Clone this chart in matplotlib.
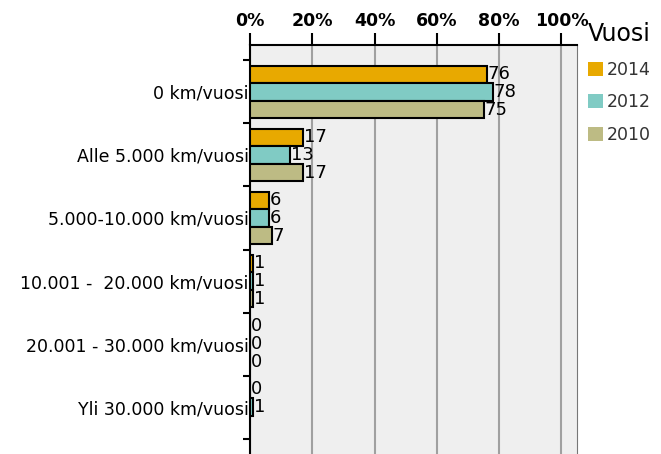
import numpy as np
import matplotlib
matplotlib.use('Agg')
from matplotlib import pyplot as plt
from matplotlib.patches import Patch

categories = ['0 km/vuosi', 'Alle 5.000 km/vuosi', '5.000-10.000 km/vuosi',
              '10.001 -  20.000 km/vuosi', '20.001 - 30.000 km/vuosi',
              'Yli 30.000 km/vuosi']
years = ['2014', '2012', '2010']
v2014 = [76, 17, 6, 1, 0, 0]
v2012 = [78, 13, 6, 1, 0, 1]
v2010 = [75, 17, 7, 1, 0, np.nan]
colors = ['#E8A900', '#80CBC4', '#BDBB84']

plt.rcParams['font.family'] = 'DejaVu Sans'

fig = plt.figure(figsize=(6.61, 4.54), dpi=100)
ax = fig.add_axes([250 / 661, 0, 327 / 661, 409 / 454])
ax.set_facecolor('#EFEFEF')

y = np.arange(len(categories))
h = 0.27
offsets = [-0.278, 0, 0.278]
for vals, off, c in zip([v2014, v2012, v2010], offsets, colors):
    vals = np.array(vals, dtype=float)
    ok = ~np.isnan(vals)
    ax.barh(y[ok] + off, vals[ok], height=h, color=c, edgecolor='black',
            linewidth=1.5, zorder=3)
    for yy, v in zip(y[ok] + off, vals[ok]):
        ax.text(v + 0.3, yy, '%d' % v, va='center', ha='left', fontsize=13,
                zorder=4)

ax.set_xlim(0, 105)
ax.set_ylim(5.746, -0.746)
ax.xaxis.tick_top()
ax.set_xticks([0, 20, 40, 60, 80, 100])
ax.set_xticklabels(['0%', '20%', '40%', '60%', '80%', '100%'],
                   fontsize=12.5, fontweight='bold')
ax.tick_params(axis='x', length=9, width=1.5, pad=2)
ax.grid(axis='x', color='#A0A0A0', linewidth=1.5, zorder=0)

ax.set_yticks(y)
ax.set_yticklabels(categories, fontsize=12.5)
ax.set_yticks(np.arange(-0.5, len(categories)), minor=True)
ax.tick_params(axis='y', which='major', length=0, pad=1)
ax.tick_params(axis='y', which='minor', length=5, width=1.5)

ax.spines['bottom'].set_visible(False)
ax.spines['left'].set_linewidth(1.5)
ax.spines['top'].set_linewidth(1.5)
ax.spines['right'].set_color('#777777')

handles = [Patch(facecolor=c, edgecolor='none') for c in colors]
leg = fig.legend(handles, years, loc='upper left', bbox_to_anchor=(574 / 661, 1 - 8 / 454),
                 title='Vuosi', frameon=False, fontsize=12.5, handlelength=0.85,
                 handleheight=0.85, handletextpad=0.25, labelspacing=0.85,
                 title_fontsize=17, borderpad=0.3)
leg._legend_box.align = 'left'
for t in leg.get_texts():
    t.set_color('#333333')

fig.savefig('out.png', dpi=100)
